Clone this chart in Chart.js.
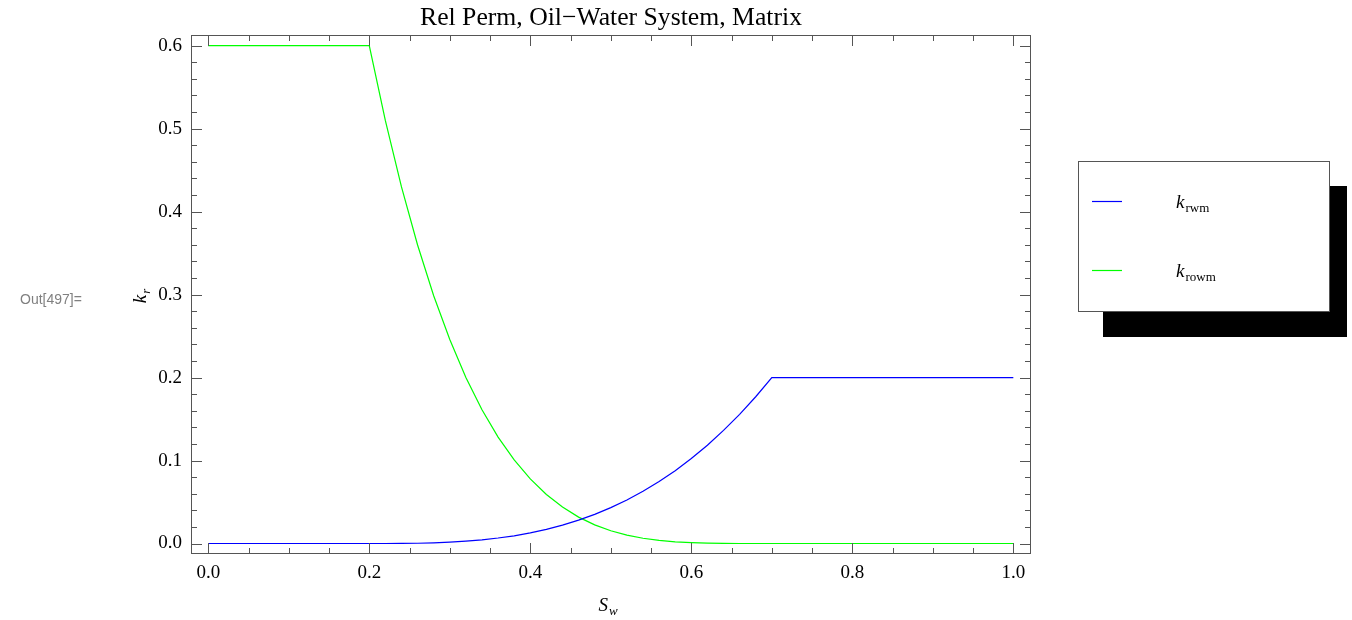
<!DOCTYPE html>
<html>
<head>
<meta charset="utf-8">
<script src="https://cdn.jsdelivr.net/npm/chart.js@4.4.1/dist/chart.umd.min.js"></script>
<style>
  html, body { margin: 0; padding: 0; background: #fff; }
  canvas { display: block; }
</style>
</head>
<body>
<canvas id="chart" width="1352" height="620"></canvas>
<script>
// water saturation samples
const swGrid = [0, 0.1,
  0.20, 0.22, 0.24, 0.26, 0.28, 0.30, 0.32, 0.34, 0.36, 0.38, 0.40,
  0.42, 0.44, 0.46, 0.48, 0.50, 0.52, 0.54, 0.56, 0.58, 0.60,
  0.62, 0.64, 0.66, 0.68, 0.70,
  0.8, 0.9, 1.0];

// k_rwm (blue)
const krwm = [0, 0,
  0, 0, 0.0001, 0.0003, 0.0008, 0.0016, 0.0028, 0.0044, 0.0066, 0.0093, 0.0128,
  0.0170, 0.0221, 0.0281, 0.0351, 0.0432, 0.0524, 0.0629, 0.0746, 0.0878, 0.1024,
  0.1185, 0.1363, 0.1557, 0.1769, 0.2,
  0.2, 0.2, 0.2];

// k_rowm (green)
const krowm = [0.6, 0.6,
  0.6, 0.5096, 0.4298, 0.3598, 0.2987, 0.2458, 0.2002, 0.1612, 0.1283, 0.1007, 0.0778,
  0.0590, 0.0439, 0.0318, 0.0225, 0.0154, 0.0101, 0.0063, 0.0037, 0.0020, 0.0010,
  0.0004, 0.0001, 0, 0, 0,
  0, 0, 0];

const xTicks = [0, 0.2, 0.4, 0.6, 0.8, 1.0];
const yTicks = [0, 0.1, 0.2, 0.3, 0.4, 0.5, 0.6];
const seriesSubs = ['rwm', 'rowm'];
const seriesColors = ['#0000ff', '#00ff00'];
const titleText = 'Rel Perm, Oil\u2212Water System, Matrix';
const outLabel = 'Out[497]=';

const SERIF = '"Liberation Serif", "Times New Roman", serif';
const FRAME = '#555';

function pts(ys) {
  return swGrid.map((x, i) => ({ x, y: ys[i] }));
}

// main letter + lowered subscript
function subText(ctx, x, y, main, sub, opts) {
  const mf = opts.mainFont, sf = opts.subFont;
  ctx.font = mf;
  const mw = ctx.measureText(main).width;
  ctx.font = sf;
  const sw = ctx.measureText(sub).width;
  let sx = x;
  if (opts.align === 'center') sx = x - (mw + sw + 1) / 2;
  ctx.textAlign = 'left';
  ctx.textBaseline = 'alphabetic';
  ctx.fillStyle = '#000';
  ctx.font = mf;
  ctx.fillText(main, sx, y);
  ctx.font = sf;
  ctx.fillText(sub, sx + mw + 1, y + 4);
}

const decor = {
  id: 'decor',
  afterDatasetsDraw(chart) {
    const { ctx, chartArea: a, scales } = chart;
    const xs = scales.x, ys = scales.y;
    ctx.save();
    ctx.strokeStyle = FRAME;
    ctx.lineWidth = 1;
    ctx.strokeRect(a.left - 0.5, a.top - 0.5, a.right - a.left + 1, a.bottom - a.top + 1);

    ctx.beginPath();
    for (let i = 0; i <= 20; i++) {
      const px = Math.round(xs.getPixelForValue(i * 0.05)) + 0.5;
      const len = i % 4 === 0 ? 10 : 5;
      ctx.moveTo(px, a.bottom); ctx.lineTo(px, a.bottom - len);
      ctx.moveTo(px, a.top); ctx.lineTo(px, a.top + len);
    }
    for (let i = 0; i <= 30; i++) {
      const py = Math.round(ys.getPixelForValue(i * 0.02)) + 0.5;
      const len = i % 5 === 0 ? 10 : 5;
      ctx.moveTo(a.left, py); ctx.lineTo(a.left + len, py);
      ctx.moveTo(a.right, py); ctx.lineTo(a.right - len, py);
    }
    ctx.stroke();
    ctx.restore();
  },
  afterDraw(chart) {
    const { ctx, chartArea: a } = chart;
    ctx.save();

    // title
    ctx.fillStyle = '#000';
    ctx.font = '25.7px ' + SERIF;
    ctx.textAlign = 'center';
    ctx.textBaseline = 'alphabetic';
    ctx.fillText(titleText, (a.left + a.right) / 2, 25);

    // axis titles
    subText(ctx, 608, 611, 'S', 'w', { mainFont: 'italic 19px ' + SERIF, subFont: 'italic 13px ' + SERIF, align: 'center' });
    ctx.save();
    ctx.translate(146, 296);
    ctx.rotate(-Math.PI / 2);
    subText(ctx, 0, 0, 'k', 'r', { mainFont: 'italic 19px ' + SERIF, subFont: 'italic 13px ' + SERIF, align: 'center' });
    ctx.restore();

    // Out label
    ctx.fillStyle = '#808080';
    ctx.font = '14px "Liberation Sans", Arial, sans-serif';
    ctx.textAlign = 'left';
    ctx.textBaseline = 'middle';
    ctx.fillText(outLabel, 20, 300);

    // legend with drop shadow
    ctx.fillStyle = '#000';
    ctx.fillRect(1103, 186, 244, 151);
    ctx.fillStyle = '#fff';
    ctx.fillRect(1078, 161, 251, 150);
    ctx.strokeStyle = FRAME;
    ctx.lineWidth = 1;
    ctx.strokeRect(1078.5, 161.5, 251, 150);

    const rows = [201.5, 270.5];
    rows.forEach((ry, i) => {
      ctx.strokeStyle = seriesColors[i];
      ctx.lineWidth = 1.2;
      ctx.beginPath();
      ctx.moveTo(1092, ry); ctx.lineTo(1122, ry);
      ctx.stroke();
      subText(ctx, 1176, ry + 6, 'k', seriesSubs[i], { mainFont: 'italic 19px ' + SERIF, subFont: '13px ' + SERIF, align: 'left' });
    });

    ctx.restore();
  }
};

new Chart(document.getElementById('chart'), {
  type: 'line',
  data: {
    datasets: [
      { label: 'krwm', data: pts(krwm), borderColor: seriesColors[0], borderWidth: 1.2, pointRadius: 0, tension: 0, fill: false },
      { label: 'krowm', data: pts(krowm), borderColor: seriesColors[1], borderWidth: 1.2, pointRadius: 0, tension: 0, fill: false },
    ],
  },
  options: {
    responsive: false,
    animation: false,
    events: [],
    layout: { padding: { left: 0, top: 36, right: 322, bottom: 0 } },
    plugins: { legend: { display: false }, title: { display: false }, tooltip: { enabled: false } },
    scales: {
      x: {
        type: 'linear',
        min: -0.0202, max: 1.0207,
        grid: { display: false, drawTicks: false }, border: { display: false },
        afterBuildTicks: s => { s.ticks = xTicks.map(v => ({ value: v })); },
        afterFit: s => { s.height = 67; },
        ticks: {
          color: '#000', padding: 9, maxRotation: 0, autoSkip: false,
          font: { family: SERIF, size: 19 },
          callback: v => v.toFixed(1),
        },
      },
      y: {
        type: 'linear',
        min: -0.01145, max: 0.6117,
        grid: { display: false, drawTicks: false }, border: { display: false },
        afterBuildTicks: s => { s.ticks = yTicks.map(v => ({ value: v })); },
        afterFit: s => { s.width = 192; },
        ticks: {
          color: '#000', padding: 10, autoSkip: false,
          font: { family: SERIF, size: 19 },
          callback: v => v.toFixed(1),
        },
      },
    },
  },
  plugins: [decor],
});
</script>
</body>
</html>
